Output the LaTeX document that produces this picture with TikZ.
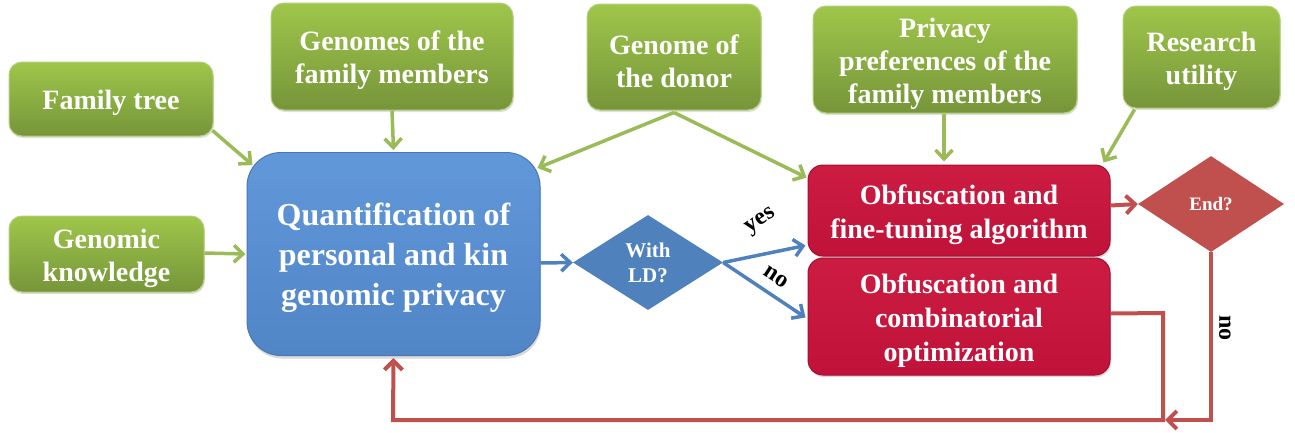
\documentclass[tikz,border=0pt]{standalone}
\usepackage{fontspec}
\setmainfont{Liberation Serif}
\usetikzlibrary{shapes.geometric,arrows.meta,shadows}
\definecolor{gtop}{HTML}{9FC64A}
\definecolor{gbot}{HTML}{76953A}
\definecolor{gline}{HTML}{B2D07A}
\definecolor{garrow}{HTML}{9BBB59}
\definecolor{btop}{HTML}{6198DA}
\definecolor{bbot}{HTML}{5085C6}
\definecolor{bline}{HTML}{4A78B2}
\definecolor{barrow}{HTML}{4F81BD}
\definecolor{rtop}{HTML}{CC1C42}
\definecolor{rbot}{HTML}{C0123A}
\definecolor{rline}{HTML}{A50E30}
\definecolor{rarrow}{HTML}{C0504D}
\newcommand\gup{\rule{0pt}{27.5pt}}
\newcommand\bup{\rule{0pt}{30pt}}
\begin{document}
\begin{tikzpicture}[x=1pt,y=-1pt,
  gbox/.style={rounded corners=13pt, top color=gtop, bottom color=gbot, draw=gline, line width=1pt,
    text=white, align=center, inner sep=0pt, font=\fontsize{28}{33}\selectfont\bfseries,
    drop shadow={shadow xshift=1pt, shadow yshift=-2pt, opacity=0.25}},
  bbox/.style={rounded corners=34pt, top color=btop, bottom color=bbot, draw=bline, line width=1pt,
    text=white, align=center, inner sep=0pt, font=\fontsize{32}{40}\selectfont\bfseries,
    drop shadow={shadow xshift=1pt, shadow yshift=-3pt, opacity=0.3}},
  rbox/.style={rounded corners=15pt, top color=rtop, bottom color=rbot, draw=rline, line width=1pt,
    text=white, align=center, inner sep=0pt, font=\fontsize{28}{34}\selectfont\bfseries,
    drop shadow={shadow xshift=1pt, shadow yshift=-2pt, opacity=0.3}},
  dia/.style={diamond, aspect=1.55, inner sep=0pt, text=white, align=center},
  garr/.style={draw=garrow, line width=3.5pt, -{Straight Barb[length=9pt,width=17pt]}},
  barr/.style={draw=barrow, line width=3.5pt, -{Straight Barb[length=9pt,width=17pt]}},
  rarr/.style={draw=rarrow, line width=4pt, -{Straight Barb[length=9pt,width=18pt]}},
  lbl/.style={font=\fontsize{24}{26}\selectfont\bfseries, text=black, inner sep=0pt}
]
\useasboundingbox (0,0) rectangle (1295,432);

% green input boxes
\node[gbox, minimum width=204pt, minimum height=74pt] (fam) at (111,99) {\gup Family tree};
\node[gbox, minimum width=242pt, minimum height=107pt] (gen) at (392,56.5) {\gup Genomes of the\\family members};
\node[gbox, minimum width=174pt, minimum height=106pt] (don) at (674,57) {\gup Genome of\\the donor};
\node[gbox, minimum width=264pt, minimum height=107pt] (pp) at (945,59.5) {\gup Privacy\\preferences of the\\family members};
\node[gbox, minimum width=157pt, minimum height=102pt] (res) at (1201.5,57) {\gup Research\\utility};
\node[gbox, minimum width=195pt, minimum height=76pt] (gk) at (106.5,254) {\gup Genomic\\knowledge};

% main boxes
\node[bbox, minimum width=293pt, minimum height=203pt] (quant) at (393.5,254) {\bup Quantification of\\personal and kin\\genomic privacy};
\node[rbox, minimum width=302pt, minimum height=91pt] (obf1) at (959,210.5) {\gup Obfuscation and\\fine-tuning algorithm};
\node[rbox, minimum width=302pt, minimum height=117pt] (obf2) at (959,316.5) {\gup Obfuscation and\\combinatorial\\optimization};

% diamonds
\node[dia, fill=barrow, minimum width=150pt, minimum height=95pt,
      font=\fontsize{21}{25}\selectfont\bfseries] (ld) at (648,262.5) {With\\LD?};
\node[dia, fill=rarrow, minimum width=146pt, minimum height=96pt,
      font=\fontsize{19}{22}\selectfont\bfseries] (end) at (1211,204) {End?};

% green arrows
\draw[garr] ([xshift=-1pt,yshift=6pt]fam.south east) -- ([xshift=6pt,yshift=-13pt]quant.north west);
\draw[garr] (gen.south) -- ([yshift=2pt]quant.north);
\draw[garr] ([yshift=-2pt]don.south) -- ([xshift=-3pt,yshift=-16pt]quant.north east);
\draw[garr] ([yshift=-2pt]don.south) -- ([xshift=-1pt,yshift=-13pt]obf1.north west);
\draw[garr] ([xshift=-1pt]pp.south) -- ([xshift=-15pt,yshift=3pt]obf1.north);
\draw[garr] ([xshift=12pt,yshift=-1pt]res.south west) -- ([xshift=-7pt,yshift=2pt]obf1.north east);
\draw[garr] ([yshift=1pt]gk.east) -- ([xshift=-1pt]quant.west);

% blue arrows
\draw[barr] ([yshift=-9pt]quant.east) -- (ld.west);
\draw[barr] (ld.east) -- ([xshift=-2pt,yshift=-35pt]obf1.west);
\draw[barr] (ld.east) -- ([xshift=-2pt,yshift=-1pt]obf2.west);
\node[lbl, rotate=33] (yes) at (761,222) {yes};
\node[lbl, rotate=-33] (no1) at (776,277) {no};

% red arrows and loop
\draw[rarr] ([yshift=5pt]obf1.east) -- (end.west);
\coordinate (c1) at (1163,313);
\coordinate (c2) at (1163,420);
\coordinate (c3) at (393,420);
\coordinate (c4) at (1211,420);
\draw[rarr] ([yshift=3pt]obf2.east) -- (c1) -- (c2) -- (c3) -- ([yshift=-2pt]quant.south);
\draw[rarr] (end.south) -- (c4) -- ([xshift=2pt]c2);
\node[lbl, rotate=-90] (no2) at (1225,328) {no};
\end{tikzpicture}
\end{document}
